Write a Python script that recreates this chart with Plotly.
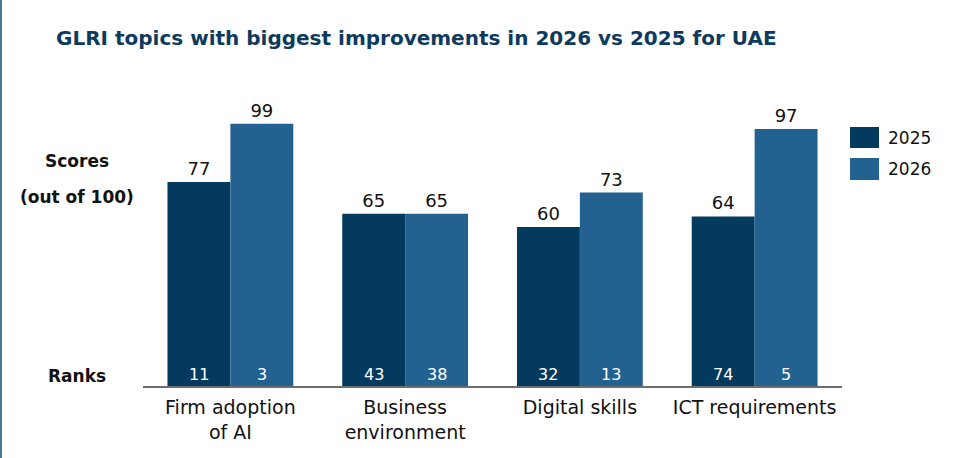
import plotly.graph_objects as go

categories = ["Firm adoption<br>of AI", "Business<br>environment", "Digital skills", "ICT requirements"]
scores_2025 = [77, 65, 60, 64]
scores_2026 = [99, 65, 73, 97]
ranks_2025 = [11, 43, 32, 74]
ranks_2026 = [3, 38, 13, 5]
series_names = ["2025", "2026"]
colors = ["#043a5d", "#236191"]

FONT = "Century Gothic, DejaVu Sans, sans-serif"
W, H = 961, 458
ML, MR, MT, MB = 143, 119, 121, 72
PW = W - ML - MR
PH = H - MT - MB

def px_x(px):
    return (px - ML) / PW

def px_y(py):
    return (H - MB - py) / PH

fig = go.Figure()
for name, sc, col in zip(series_names, [scores_2025, scores_2026], colors):
    fig.add_trace(go.Bar(
        x=categories, y=sc, name=name, marker=dict(color=col, line=dict(width=0)),
        text=[str(v) for v in sc], textposition="outside",
        textfont=dict(family=FONT, size=18, color="#111111"),
        cliponaxis=False, showlegend=False, hoverinfo="skip",
    ))

annotations = []
bar_px = PW / len(categories) * 0.72 / 2
for ranks, sign in [(ranks_2025, -1), (ranks_2026, 1)]:
    for c, r in zip(categories, ranks):
        annotations.append(dict(
            x=c, y=0, xref="x", yref="y", text=str(r), showarrow=False,
            xshift=sign * bar_px / 2, yanchor="bottom", yshift=0,
            font=dict(family=FONT, size=16, color="white"),
        ))

# left-side labels
annotations += [
    dict(x=px_x(77), y=px_y(161), xref="paper", yref="paper", text="<b>Scores</b>",
         showarrow=False, xanchor="center", yanchor="middle",
         font=dict(family=FONT, size=17, color="#111111")),
    dict(x=px_x(77), y=px_y(197), xref="paper", yref="paper", text="<b>(out of 100)</b>",
         showarrow=False, xanchor="center", yanchor="middle",
         font=dict(family=FONT, size=17, color="#111111")),
    dict(x=px_x(77), y=px_y(376), xref="paper", yref="paper", text="<b>Ranks</b>",
         showarrow=False, xanchor="center", yanchor="middle",
         font=dict(family=FONT, size=17, color="#111111")),
]

shapes = []
# custom legend
legend_rows = [(127, 148), (158, 180)]
for name, col, (y0, y1) in zip(series_names, colors, legend_rows):
    shapes.append(dict(type="rect", xref="paper", yref="paper",
                       x0=px_x(850), x1=px_x(879), y0=px_y(y1), y1=px_y(y0),
                       fillcolor=col, line=dict(width=0)))
    annotations.append(dict(x=px_x(886), y=px_y((y0 + y1) / 2), xref="paper", yref="paper",
                            text=name, showarrow=False, xanchor="left", yanchor="middle",
                            font=dict(family=FONT, size=17, color="#111111")))

# left border line
shapes.append(dict(type="line", xref="paper", yref="paper",
                   x0=px_x(1), x1=px_x(1), y0=px_y(0), y1=px_y(H),
                   line=dict(color="#4a7896", width=2)))

fig.update_layout(
    width=W, height=H,
    margin=dict(l=ML, r=MR, t=MT, b=MB),
    barmode="group", bargap=0.28, bargroupgap=0,
    plot_bgcolor="white", paper_bgcolor="white",
    title=dict(text="<b>GLRI topics with biggest improvements in 2026 vs 2025 for UAE</b>",
               x=56 / W, xanchor="left", xref="container",
               y=1 - 38 / H, yanchor="middle", yref="container",
               font=dict(family=FONT, size=20, color="#0d3b5e")),
    xaxis=dict(showline=True, linecolor="#6d6d6d", linewidth=2, ticks="",
               ticklabelstandoff=3,
               tickfont=dict(family=FONT, size=19, color="#111111"), showgrid=False),
    yaxis=dict(range=[0, 100], visible=False, showgrid=False),
    annotations=annotations, shapes=shapes, showlegend=False,
)

fig.write_html("out.html")
